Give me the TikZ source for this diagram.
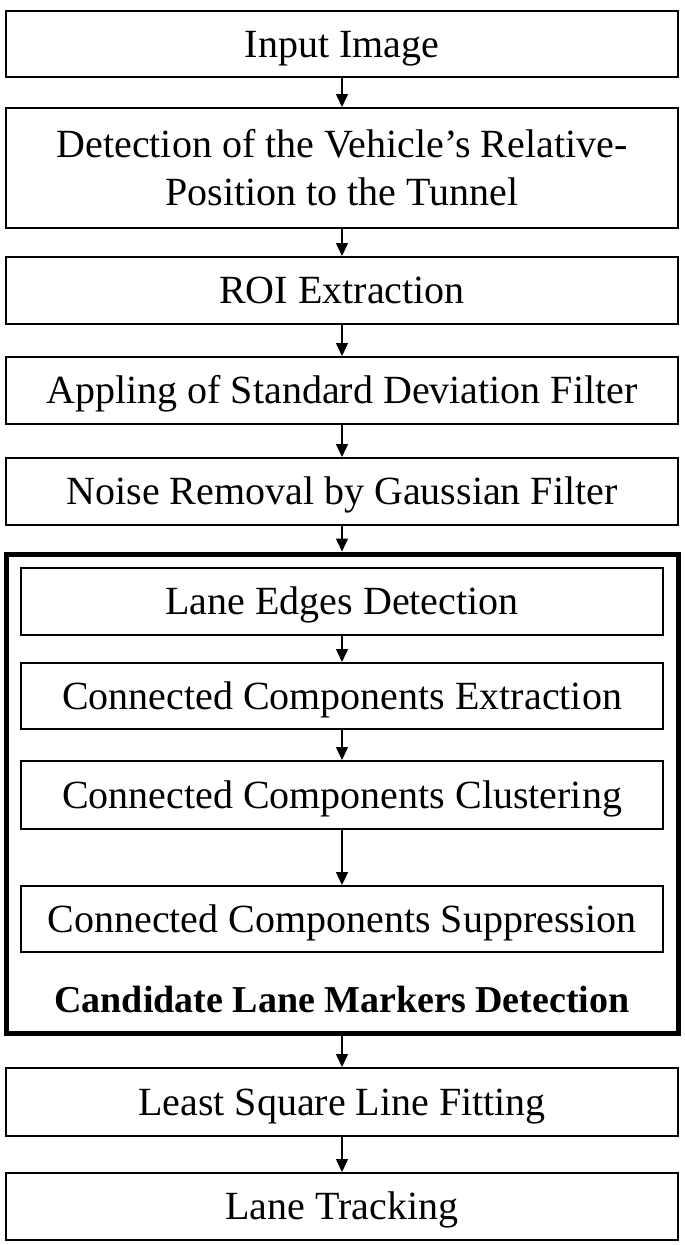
\documentclass[tikz,border=0pt]{standalone}
\usepackage{fontspec}
\setmainfont{Liberation Serif}
\usetikzlibrary{arrows.meta}
\begin{document}
\begin{tikzpicture}[x=1pt,y=-1pt,
  box/.style={draw, line width=2pt, minimum width=672pt, inner sep=0pt,
    font=\fontsize{40}{48}\selectfont, text height=26.5pt, text depth=0pt, align=center},
  inbox/.style={box, minimum width=642pt},
  group/.style={draw, line width=5pt, minimum width=672pt, minimum height=479pt, inner sep=0pt},
  flow/.style={-{Triangle[width=12pt,length=13pt]}, line width=1.5pt},
  grouplabel/.style={font=\fontsize{38}{46}\selectfont\bfseries, anchor=base, inner sep=0pt}]
\useasboundingbox (0,0) rectangle (685,1245);
\node[group] (grp) at (342,793.5) {};
\node[box, minimum height=66pt] (input) at (342,44) {Input Image};
\node[box, minimum height=120pt, text height=74.5pt] (detect) at (342,168) {Detection of the Vehicle’s Relative-\\Position to the Tunnel};
\node[box, minimum height=67pt] (roi) at (342,290.5) {ROI Extraction};
\node[box, minimum height=67pt] (std) at (342,390.5) {Appling of Standard Deviation Filter};
\node[box, minimum height=67pt] (noise) at (342,491.5) {Noise Removal by Gaussian Filter};
\node[inbox, minimum height=67pt] (edges) at (342,601.5) {Lane Edges Detection};
\node[inbox, minimum height=66pt] (cce) at (342,696) {Connected Components Extraction};
\node[inbox, minimum height=68pt] (ccc) at (342,795) {Connected Components Clustering};
\node[inbox, minimum height=66pt] (ccs) at (342,919) {Connected Components Suppression};
\node[grouplabel] (glabel) at (342,1012) {Candidate Lane Markers Detection};
\node[box, minimum height=68pt] (lsq) at (342,1102) {Least Square Line Fitting};
\node[box, minimum height=67pt] (track) at (342,1206.5) {Lane Tracking};
\draw[flow] (input) -- (detect);
\draw[flow] (detect) -- (roi);
\draw[flow] (roi) -- (std);
\draw[flow] (std) -- (noise);
\draw[flow] (noise) -- (grp);
\draw[flow] (edges) -- (cce);
\draw[flow] (cce) -- (ccc);
\draw[flow] (ccc) -- (ccs);
\draw[flow] (grp) -- (lsq);
\draw[flow] (lsq) -- (track);
\end{tikzpicture}
\end{document}
